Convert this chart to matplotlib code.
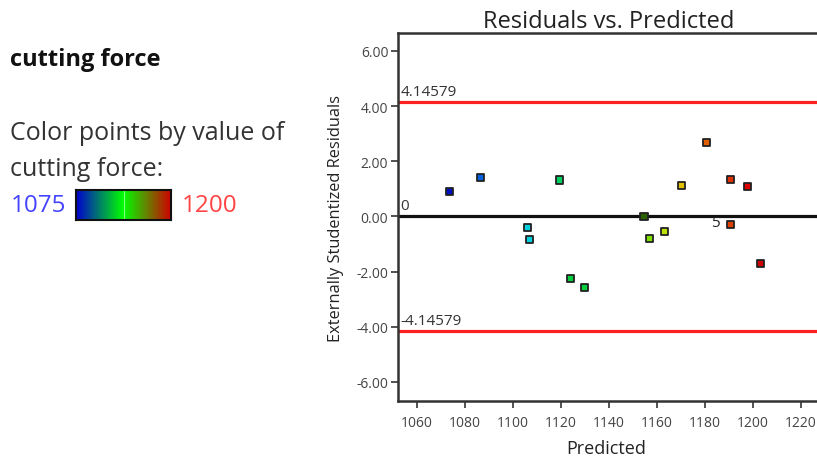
import numpy as np
import matplotlib
matplotlib.use("Agg")
import matplotlib.pyplot as plt
from matplotlib.colors import LinearSegmentedColormap

plt.rcParams['font.family'] = ['Open Sans', 'DejaVu Sans']

# predicted cutting force vs externally studentized residuals
predicted = [1073.5, 1086.5, 1105.9, 1106.7, 1119.2, 1124.1, 1129.6, 1154.6,
             1156.7, 1163.3, 1170.2, 1180.7, 1190.7, 1190.7, 1197.6, 1203.0]
residuals = [0.91, 1.42, -0.41, -0.82, 1.32, -2.25, -2.57, 0.0,
             -0.80, -0.53, 1.13, 2.67, 1.33, -0.28, 1.08, -1.72]
point_colors = ['#0010c0', '#0060e0', '#00d0e0', '#00d0e0', '#00d060', '#00d040',
                '#00d040', '#2a6000', '#80e000', '#c0e000', '#e0c000', '#e06000',
                '#e03000', '#e04000', '#e00000', '#d00000']
run_labels = {13: '5'}

limit = 4.14579
cmin, cmax = 1075, 1200
xticks = list(range(1060, 1221, 20))
yticks = [-6, -4, -2, 0, 2, 4, 6]

fig = plt.figure(figsize=(8.17, 4.6), dpi=100)
W, H = 817, 460

# left side legend text
fig.text(10 / W, 1 - 60 / H, 'cutting force', fontsize=17, fontweight='bold',
         va='center', ha='left', color='#111111')
fig.text(10 / W, 1 - 133 / H, 'Color points by value of', fontsize=18,
         va='center', ha='left', color='#333333')
fig.text(10 / W, 1 - 169 / H, 'cutting force:', fontsize=18,
         va='center', ha='left', color='#333333')
fig.text(11 / W, 1 - 206 / H, str(cmin), fontsize=17.5, va='center',
         ha='left', color='#4444ff')
fig.text(182 / W, 1 - 206 / H, str(cmax), fontsize=17.5, va='center',
         ha='left', color='#ff4444')

cmap = LinearSegmentedColormap.from_list('bgr', ['#0000d0', '#00ff00', '#d00000'])
cax = fig.add_axes([76 / W, 1 - 221 / H, 95 / W, 30 / H])
cax.imshow(np.linspace(0, 1, 256)[None, :], aspect='auto', cmap=cmap)
cax.axvline(127.5, color='#80ff80', lw=0.8)
cax.set_xticks([])
cax.set_yticks([])
for s in cax.spines.values():
    s.set_linewidth(1.5)
    s.set_color('#111111')

# residuals plot
ax = fig.add_axes([398 / W, 58 / H, 422 / W, 368 / H])
ax.set_xlim(1052, 1228)
ax.set_ylim(-6.69, 6.65)

ax.axhline(limit, color='#ff2020', lw=2.3, zorder=1)
ax.axhline(-limit, color='#ff2020', lw=2.3, zorder=1)
ax.axhline(0, color='#111111', lw=2.3, zorder=1)
ax.text(1053, limit + 0.12, '%.5f' % limit, fontsize=11, color='#333333', va='bottom')
ax.text(1053, -limit + 0.12, '%.5f' % -limit, fontsize=11, color='#333333', va='bottom')
ax.text(1053, 0.12, '0', fontsize=11, color='#333333', va='bottom')

ax.scatter(predicted, residuals, marker='s', s=26, c=point_colors,
           edgecolors='#222222', linewidths=1.3, zorder=3)
for i, lab in run_labels.items():
    ax.text(predicted[i] - 4.5, residuals[i] + 0.05, lab, fontsize=11, color='#222222',
            ha='right', va='center', zorder=4)

ax.set_xticks(xticks)
ax.set_yticks(yticks)
ax.set_yticklabels(['%.2f' % v for v in yticks])
ax.tick_params(direction='out', length=5, width=1.2, labelsize=10,
               colors='#333333', labelcolor='#444444')
ax.tick_params(axis='x', pad=5)
ax.tick_params(axis='y', pad=2)
for s in ['left', 'bottom', 'top']:
    ax.spines[s].set_linewidth(1.8)
    ax.spines[s].set_color('#333333')
ax.spines['right'].set_visible(False)

ax.set_title('Residuals vs. Predicted', fontsize=17, color='#222222', pad=4)
ax.set_xlabel('Predicted', fontsize=13, color='#222222')
ax.xaxis.set_label_coords((606 - 398) / 422, -(440 - 402) / 368)
ax.set_ylabel('Externally Studentized Residuals', fontsize=11.8, color='#222222')
ax.yaxis.set_label_coords(-(398 - 344) / 422, 0.5)

fig.savefig('out.png', dpi=100)
